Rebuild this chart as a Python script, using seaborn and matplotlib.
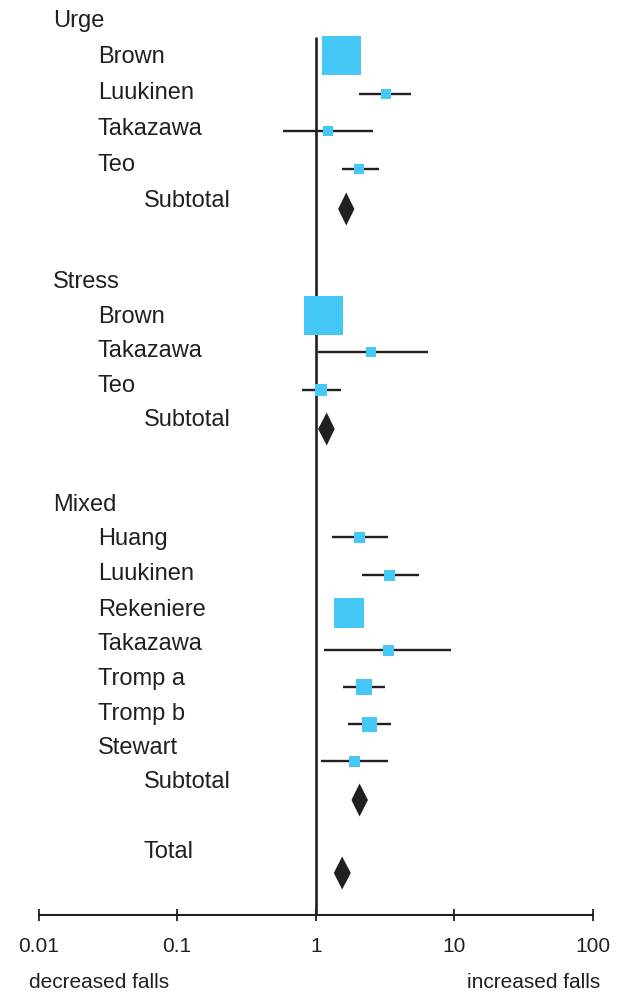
import numpy as np
import pandas as pd
import matplotlib
matplotlib.use("Agg")
import matplotlib.pyplot as plt
import matplotlib.transforms as mtransforms
import seaborn as sns

# ---- data (risk ratio, 95% CI, relative weight) ----
urge_studies = ["Brown", "Luukinen", "Takazawa", "Teo"]
urge_est = [1.53, 3.22, 1.23, 2.06]
urge_lo = [1.25, 2.06, 0.58, 1.55]
urge_hi = [1.85, 4.88, 2.60, 2.84]
urge_wt = [39, 10, 10, 10]
urge_sub = [1.66, 1.45, 1.90]

stress_studies = ["Brown", "Takazawa", "Teo"]
stress_est = [1.13, 2.51, 1.10]
stress_lo = [0.90, 1.04, 0.80]
stress_hi = [1.40, 6.40, 1.53]
stress_wt = [39, 10, 12]
stress_sub = [1.20, 1.04, 1.37]

mixed_studies = ["Huang", "Luukinen", "Rekeniere", "Takazawa", "Tromp a", "Tromp b", "Stewart"]
mixed_est = [2.08, 3.41, 1.73, 3.36, 2.24, 2.45, 1.91]
mixed_lo = [1.31, 2.16, 1.45, 1.15, 1.56, 1.72, 1.10]
mixed_hi = [3.32, 5.54, 2.05, 9.40, 3.15, 3.48, 3.32]
mixed_wt = [11, 11, 30, 11, 16, 15, 11]
mixed_sub = [2.07, 1.81, 2.38]

total_est = [1.55, 1.35, 1.79]

tick_values = [0.01, 0.1, 1, 10, 100]
tick_labels = ["0.01", "0.1", "1", "10", "100"]

# ---- layout (row positions, in pixels from the top) ----
groups = ["Urge", "Stress", "Mixed"]
header_y = [19, 280, 503]
study_label_y = [[55, 91, 127, 163], [315, 349, 384], [537, 572, 608, 642, 677, 712, 746]]
study_row_y = [[55, 94, 131, 169], [315, 352, 390], [537, 575, 613, 650, 687, 724, 761]]
sub_label_y = [199, 418, 780]
sub_row_y = [209, 429, 800]
total_label_y = 850
total_row_y = 873

SQ = "#45C8F5"
INK = "#231F20"
W, H = 620, 992
AXIS_Y = 915

sns.set_style("white")
plt.rcParams["font.family"] = ["Liberation Sans", "DejaVu Sans"]

fig = plt.figure(figsize=(W / 100, H / 100), dpi=100)
ax = fig.add_axes([38.5 / W, (H - AXIS_Y) / H, 554.5 / W, AXIS_Y / H])
ax.set_xscale("log")
ax.set_xlim(0.01, 100)
ax.set_ylim(AXIS_Y, 0)

# build one table of studies
frames = []
for g, names, est, lo, hi, wt, ys in zip(
    groups,
    [urge_studies, stress_studies, mixed_studies],
    [urge_est, stress_est, mixed_est],
    [urge_lo, stress_lo, mixed_lo],
    [urge_hi, stress_hi, mixed_hi],
    [urge_wt, stress_wt, mixed_wt],
    study_row_y,
):
    frames.append(pd.DataFrame({"group": g, "study": names, "est": est,
                                "lo": lo, "hi": hi, "wt": wt, "row": ys}))
df = pd.concat(frames, ignore_index=True)

# reference line at 1
ax.axvline(1, ymin=0, ymax=1 - 38 / AXIS_Y, color=INK, lw=1.9, zorder=1)

# confidence intervals
ax.hlines(df["row"], df["lo"], df["hi"], color=INK, lw=1.7, zorder=2)

# weighted squares (side in px -> points)
sns.scatterplot(data=df, x="est", y="row", marker="s", color=SQ,
                s=(df["wt"] * 0.72) ** 2, linewidth=0, ax=ax, zorder=3, legend=False)

# pooled diamonds
half = 16.5
for (e, l, h), y in zip([urge_sub, stress_sub, mixed_sub, total_est], sub_row_y + [total_row_y]):
    ax.fill([l, e, h, e], [y, y - half, y, y + half], color=INK, lw=0, zorder=3)

# row labels
lab_tr = mtransforms.blended_transform_factory(fig.transFigure, ax.transData)
fs = 17
for g, hy, names, ly, sy in zip(groups, header_y, [urge_studies, stress_studies, mixed_studies],
                                study_label_y, sub_label_y):
    ax.text(53 / W, hy + 8, g, transform=lab_tr, fontsize=fs, color=INK, va="baseline")
    for n, y in zip(names, ly):
        ax.text(98 / W, y + 8, n, transform=lab_tr, fontsize=fs, color=INK, va="baseline")
    ax.text(144 / W, sy + 8, "Subtotal", transform=lab_tr, fontsize=fs, color=INK, va="baseline")
ax.text(144 / W, total_label_y + 8, "Total", transform=lab_tr, fontsize=fs, color=INK, va="baseline")

# axis styling
for s in ["left", "top", "right"]:
    ax.spines[s].set_visible(False)
ax.spines["bottom"].set_color(INK)
ax.spines["bottom"].set_linewidth(1.5)
ax.set_yticks([])
ax.set_xticks(tick_values)
ax.set_xticklabels(tick_labels)
ax.minorticks_off()
ax.tick_params(axis="x", bottom=True, direction="inout", length=9, width=1.3, color=INK,
               labelsize=15, labelcolor=INK, pad=11)
ax.set_xlabel("")
ax.set_ylabel("")

fig.text(29 / W, 1 - 988 / H, "decreased falls", fontsize=15, color=INK, va="baseline", ha="left")
fig.text(600 / W, 1 - 988 / H, "increased falls", fontsize=15, color=INK, va="baseline", ha="right")

fig.savefig("out.png", dpi=100)
